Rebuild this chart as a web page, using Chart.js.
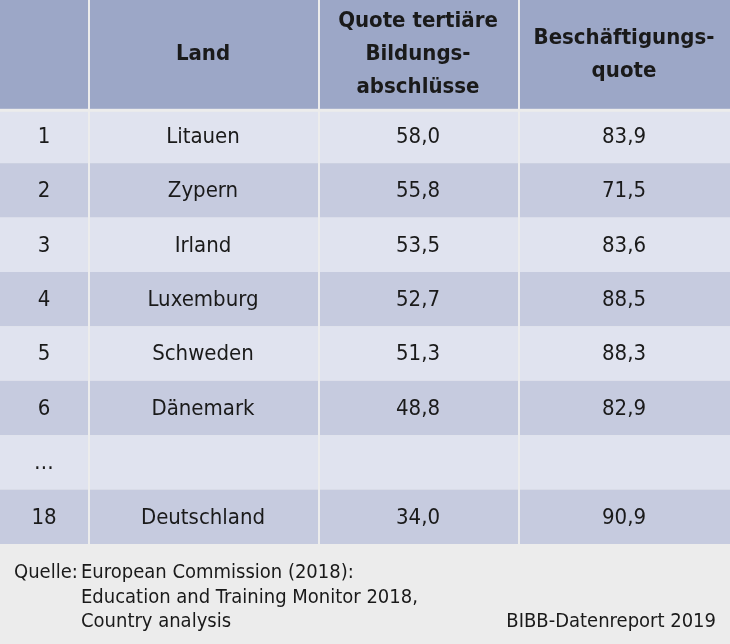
<!DOCTYPE html>
<html><head><meta charset="utf-8">
<script src="https://cdn.jsdelivr.net/npm/chart.js@4"></script>
<style>html,body{margin:0;padding:0;background:#ececec;}#w{width:730px;height:644px;}</style>
</head><body><div id="w"><canvas id="c"></canvas></div>
<script>
const headers = [["",],["Land"],["Quote tertiäre","Bildungs-","abschlüsse"],["Beschäftigungs-","quote"]];
const ranks = ["1","2","3","4","5","6","…","18"];
const countries = ["Litauen","Zypern","Irland","Luxemburg","Schweden","Dänemark","","Deutschland"];
const tertiary = ["58,0","55,8","53,5","52,7","51,3","48,8","","34,0"];
const employment = ["83,9","71,5","83,6","88,5","88,3","82,9","","90,9"];
const sourceLines = ["European Commission (2018):","Education and Training Monitor 2018,","Country analysis"];
const credit = "BIBB-Datenreport 2019";

const colEdges = [0,88,318,518,730];
const FONT = "'Liberation Sans Narrow','DejaVu Sans Condensed',sans-serif";

const tablePlugin = {
  id:'table',
  afterDraw(chart){
    const ctx = chart.ctx, xs = chart.scales.x, ys = chart.scales.y;
    const cols = [ranks, countries, tertiary, employment];
    ctx.save();
    const rowBands = [[0,2]];
    for (let i=0;i<ranks.length;i++) rowBands.push([2+i,3+i]);
    rowBands.forEach((b,ri)=>{
      const y0 = ys.getPixelForValue(b[0]), y1 = ys.getPixelForValue(b[1]);
      ctx.fillStyle = ri===0 ? '#9ca7c7' : (ri%2===1 ? '#e0e3ef' : '#c6cbdf');
      for (let c=0;c<4;c++){
        const x0 = xs.getPixelForValue(colEdges[c]), x1 = xs.getPixelForValue(colEdges[c+1]);
        const gy = ri===1 ? 3 : 0;
        ctx.fillRect(x0+(c?2:0), y0+gy, x1-x0-(c?2:0), y1-y0-gy);
      }
    });
    ctx.fillStyle = '#1a1a1a';
    ctx.textAlign = 'center'; ctx.textBaseline = 'middle';
    ctx.font = 'bold 22px '+FONT;
    headers.forEach((lines,c)=>{
      const cx = xs.getPixelForValue((colEdges[c]+colEdges[c+1])/2);
      const cy = ys.getPixelForValue(1);
      lines.forEach((t,i)=>{ ctx.fillText(t, cx, cy + (i-(lines.length-1)/2)*33); });
    });
    ctx.font = '22px '+FONT;
    cols.forEach((arr,c)=>{
      const cx = xs.getPixelForValue((colEdges[c]+colEdges[c+1])/2);
      arr.forEach((t,i)=>{ ctx.fillText(t, cx, ys.getPixelForValue(2.5+i)+1); });
    });
    ctx.font = '20px '+FONT; ctx.textAlign='left';
    const base = ys.getPixelForValue(10);
    ctx.fillText('Quelle:', 14, base+29);
    sourceLines.forEach((t,i)=>ctx.fillText(t, 81, base+29+i*24.5));
    ctx.textAlign='right';
    ctx.fillText(credit, 716, base+78);
    ctx.restore();
  }
};

new Chart(document.getElementById('c'), {
  type:'scatter',
  data:{datasets:[{data:[]}]},
  options:{
    responsive:true, maintainAspectRatio:false, animation:false,
    layout:{padding:{left:0,right:0,top:0,bottom:100}},
    plugins:{legend:{display:false},tooltip:{enabled:false}},
    scales:{
      x:{type:'linear',min:0,max:730,display:false},
      y:{type:'linear',min:0,max:10,reverse:true,display:false}
    }
  },
  plugins:[tablePlugin]
});
</script></body></html>
